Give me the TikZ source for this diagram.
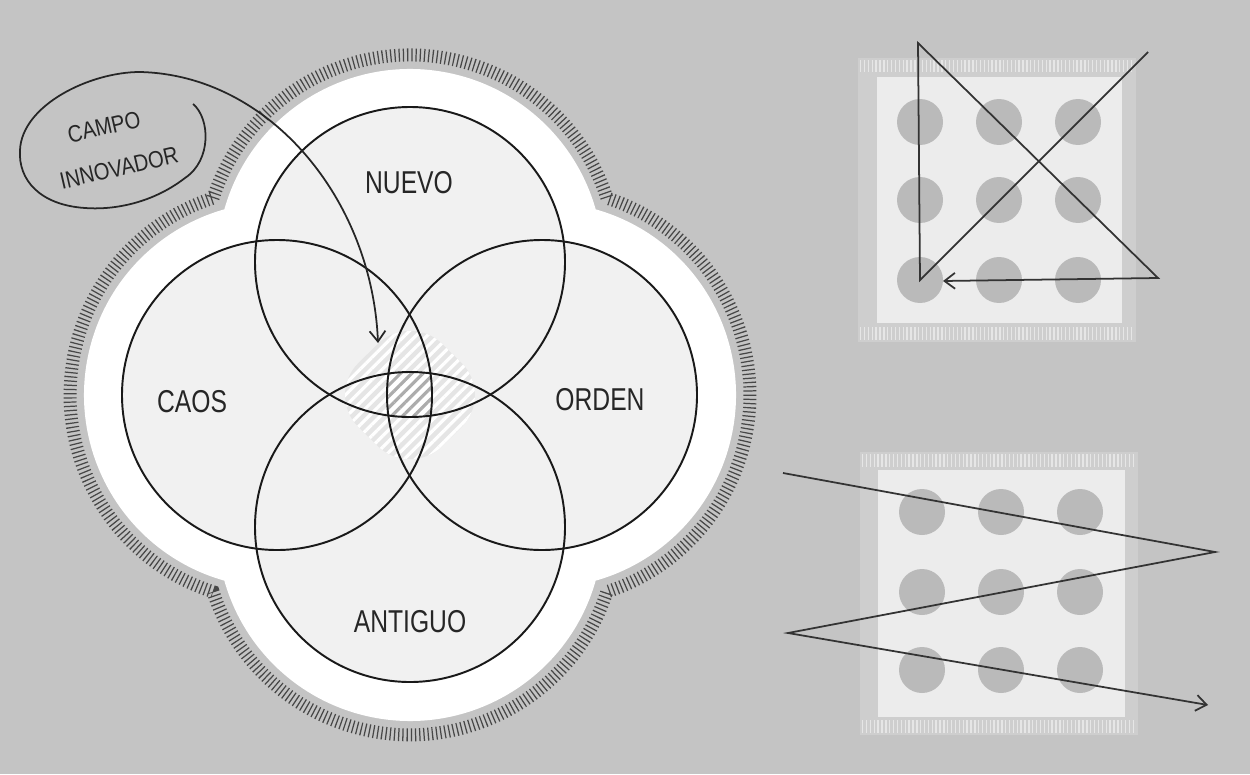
\documentclass[tikz,border=0pt]{standalone}
\usepackage{fontspec}
\usetikzlibrary{arrows.meta, patterns.meta}
\newfontfamily\labelfont[FakeStretch=0.78]{Liberation Sans}
\newfontfamily\handfont[FakeStretch=0.85]{Liberation Sans}
\definecolor{paper}{RGB}{196,196,196}
\definecolor{ring}{RGB}{241,241,241}
\definecolor{dotgray}{RGB}{186,186,186}
\definecolor{panel}{RGB}{236,236,236}
\definecolor{framegray}{RGB}{206,206,206}

% outline of the four-circle union (radius, half-span of each arc)
\newcommand{\cloverpath}[2]{(cN) ++(270-#2:#1)
  arc[start angle=270-#2, end angle=270+#2, radius=#1]
  arc[start angle=360-#2, end angle=360+#2, radius=#1]
  arc[start angle=450-#2, end angle=450+#2, radius=#1]
  arc[start angle=540-#2, end angle=540+#2, radius=#1] -- cycle}

\begin{document}
\begin{tikzpicture}[x=0.02cm, y=-0.02cm,
  ringline/.style={black!90, line width=1.1pt},
  tagtext/.style={font=\labelfont\fontsize{18}{20}\selectfont, text=black!85},
  hand/.style={font=\handfont\fontsize{13.5}{16}\selectfont, text=black!85, rotate=13, inner sep=0pt},
  pen/.style={black!85, line width=1pt},
  dot/.style={circle, fill=dotgray, minimum size=0.92cm, inner sep=0pt},
  zig/.style={black!80, line width=1pt},
  barb/.style={-{Straight Barb[length=6pt, width=9pt]}},
  ticks/.style={draw=black!72, line width=0.26cm, dash pattern=on 0.7pt off 1.7pt},
  stripes/.style={pattern={Lines[angle=45, distance=4.5pt, line width=1.8pt]}},
]

% paper
\fill[paper] (0,0) rectangle (1250,774);
\useasboundingbox (0,0) rectangle (1250,774);

% centres of the four fields
\coordinate (cN) at (410,262);
\coordinate (cC) at (277,395);
\coordinate (cO) at (542,395);
\coordinate (cA) at (410,527);

% white clover with hatched rim
\draw[ticks] \cloverpath{207}{72.0};
\fill[white] \cloverpath{193}{74.16};
\fill[ring] (cN) circle[radius=155] (cC) circle[radius=155]
  (cO) circle[radius=155] (cA) circle[radius=155];

% hatched centre
\fill[gray!20, rounded corners=26pt] (410,312) -- (494,395) -- (410,478) -- (326,395) -- cycle;
\fill[stripes, pattern color=white, rounded corners=26pt] (410,312) -- (494,395) -- (410,478) -- (326,395) -- cycle;
\begin{scope}
  \clip (cN) circle[radius=155];
  \clip (cC) circle[radius=155];
  \clip (cO) circle[radius=155];
  \clip (cA) circle[radius=155];
  \fill[white] (370,350) rectangle (450,440);
  \fill[stripes, pattern color=gray!65] (370,350) rectangle (450,440);
\end{scope}

% the four circles
\foreach \c in {cN,cC,cO,cA}
  \draw[ringline] (\c) circle[radius=155];

\node[tagtext] (nuevo) at (409,183) {NUEVO};
\node[tagtext] (caos) at (192,402) {CAOS};
\node[tagtext] (orden) at (600,400) {ORDEN};
\node[tagtext] (antiguo) at (410,622) {ANTIGUO};

% callout
\node[hand] (campo) at (104,127) {CAMPO};
\node[hand] (innovador) at (119,168) {INNOVADOR};
\coordinate (tip) at (378,343);
\draw[pen, barb] (193,104) .. controls (210,118) and (212,160) .. (185,178)
  .. controls (150,205) and (110,210) .. (85,208)
  .. controls (40,205) and (18,180) .. (20,150)
  .. controls (22,105) and (90,72) .. (140,72)
  .. controls (270,75) and (372,200) .. (tip);

% upper panel
\fill[framegray] (858,58) rectangle (1136,342);
\draw[white, opacity=0.5, line width=0.26cm, dash pattern=on 0.8pt off 1.4pt]
  (860,66) -- (1134,66) (860,333) -- (1134,333);
\fill[panel] (877,77) rectangle (1122,323);
\foreach \i/\x in {1/920,2/999,3/1078}
  \foreach \j/\y in {1/122,2/200,3/280}
    \node[dot] (a\i\j) at (\x,\y) {};
\coordinate (s1) at (1148,52);
\coordinate (k1) at (918,43);
\coordinate (k2) at (1158,278);
\coordinate (e1) at (943,281);
\draw[zig, barb] (s1) -- (a13.center) -- (k1) -- (k2) -- (e1);

% lower panel
\fill[framegray] (860,452) rectangle (1138,735);
\draw[white, opacity=0.5, line width=0.26cm, dash pattern=on 0.8pt off 1.4pt]
  (862,460) -- (1136,460) (862,726) -- (1136,726);
\fill[panel] (878,470) rectangle (1125,717);
\foreach \i/\x in {1/922,2/1001,3/1080}
  \foreach \j/\y in {1/512,2/592,3/670}
    \node[dot] (b\i\j) at (\x,\y) {};
\coordinate (s2) at (783,473);
\coordinate (k3) at (1215,552);
\coordinate (k4) at (788,633);
\coordinate (e2) at (1208,705);
\draw[zig, barb] (s2) -- (k3) -- (k4) -- (e2);

\end{tikzpicture}
\end{document}
